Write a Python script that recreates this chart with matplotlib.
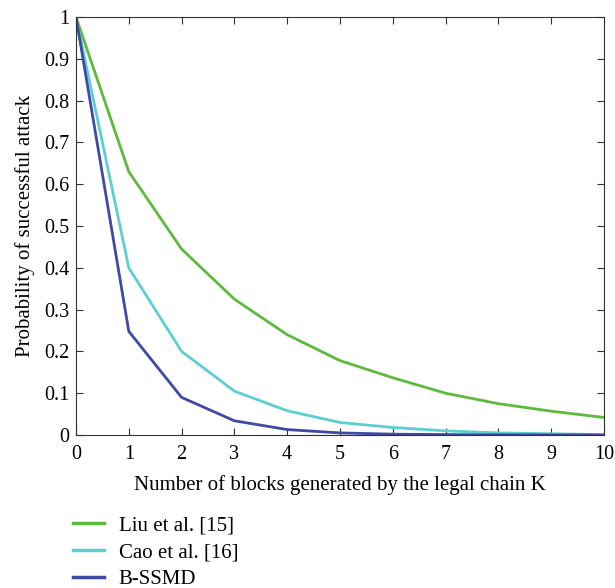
import matplotlib.pyplot as plt
from matplotlib.lines import Line2D

plt.rcParams['font.family'] = ['Liberation Serif', 'DejaVu Serif']

k = [0, 1, 2, 3, 4, 5, 6, 7, 8, 9, 10]
liu = [1.0, 0.63, 0.445, 0.325, 0.24, 0.178, 0.137, 0.10, 0.075, 0.057, 0.042]
cao = [1.0, 0.40, 0.20, 0.105, 0.058, 0.030, 0.018, 0.010, 0.005, 0.003, 0.001]
bssmd = [1.0, 0.248, 0.09, 0.034, 0.013, 0.005, 0.002, 0.001, 0.0005, 0.0002, 0.0001]
names = ['Liu et al. [15]', 'Cao et al. [16]', 'B-SSMD']
colors = ['#5cba3c', '#5ccfd4', '#3e4aa3']

fig = plt.figure(figsize=(6.15, 5.88), dpi=100)
ax = fig.add_axes([0.1236, 0.2602, 0.8584, 0.7108])

for ys, c in zip([liu, cao, bssmd], colors):
    ax.plot(k, ys, color=c, lw=2)

ax.set_xlim(0, 10)
ax.set_ylim(0, 1)
ax.set_xticks(k)
ax.set_yticks([i / 10 for i in range(11)])
ax.set_yticklabels(['0', '0.1', '0.2', '0.3', '0.4', '0.5', '0.6', '0.7', '0.8', '0.9', '1'])
ax.tick_params(direction='in', top=True, right=True, labelsize=14.5, length=5,
               color='#333333', pad=5)
ax.tick_params(axis='x', pad=7)
for s in ax.spines.values():
    s.set_color('#333333')
ax.set_xlabel('Number of blocks generated by the legal chain K', fontsize=15, labelpad=8)
ax.set_ylabel('Probability of successful attack', fontsize=15, labelpad=6)

handles = [Line2D([0], [0], color=c, lw=2.5) for c in colors]
fig.legend(handles, names, loc='upper left', bbox_to_anchor=(0.105, 0.137),
           frameon=False, fontsize=15, handlelength=1.5, labelspacing=0.35,
           handletextpad=0.7, borderaxespad=0)

fig.savefig('out.png', dpi=100)
